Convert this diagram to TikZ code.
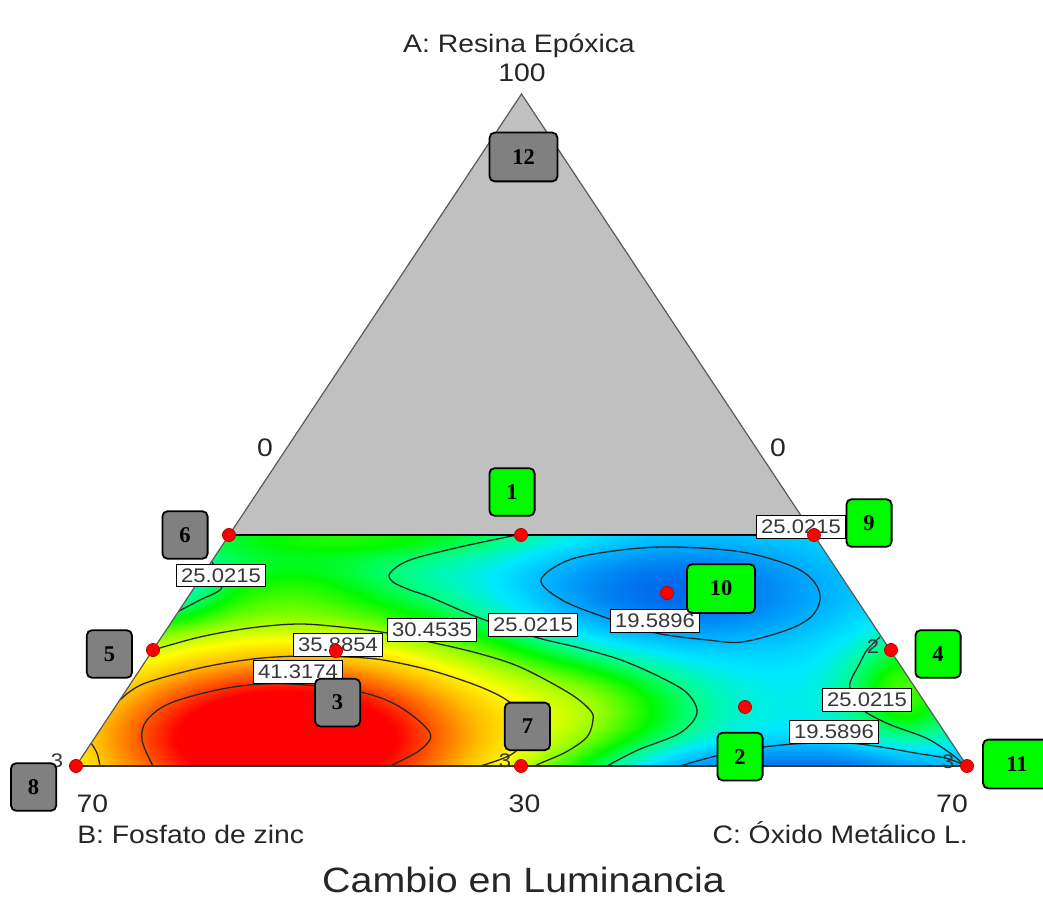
\documentclass[tikz,border=0pt]{standalone}
\usepackage{fontspec}
\usepackage{tikz}
\usetikzlibrary{positioning}
\usepackage{pgfplots}
\pgfplotsset{compat=1.18}
\newfontfamily\axfont[FakeStretch=1.12]{Liberation Sans}
\newfontfamily\numfont{Liberation Serif}
\definecolor{triGray}{RGB}{192,192,192}
\definecolor{edgeGray}{RGB}{90,90,90}
\definecolor{ptGreen}{RGB}{0,250,0}
\definecolor{ptGray}{RGB}{128,128,128}
\definecolor{labText}{RGB}{55,55,55}

\begin{document}
\begin{tikzpicture}[x=0.25mm, y=0.25mm]
  \tikzset{
    gbox/.style={draw, rectangle, fill=ptGreen, rounded corners=1.3mm, line width=0.45mm, minimum width=11.3mm, minimum height=11.9mm, font=\numfont\bfseries\fontsize{16}{18}\selectfont},
    kbox/.style={gbox, fill=ptGray},
    twodig/.style={minimum width=17mm, minimum height=12.2mm},
    rdot/.style={draw=red!70!black, circle, fill=red, line width=0.15mm, inner sep=0pt, minimum size=3.3mm},
    clab/.style={draw, fill=white, line width=0.2mm, inner sep=0pt, minimum width=22.3mm, minimum height=5.6mm, text=labText, font=\axfont\fontsize{14}{15}\selectfont},
    cnum/.style={inner sep=0pt, text=labText, font=\axfont\fontsize{14}{15}\selectfont},
    axlab/.style={inner sep=0pt, text=black!85, font=\axfont\fontsize{18}{20}\selectfont},
    cline/.style={draw, line width=0.32mm, black!85}
  }
  \useasboundingbox (0,0) rectangle (1043,-898);

  % ternary frame
  \coordinate (apex) at (521.5,-94);
  \coordinate (bl) at (76,-766);
  \coordinate (br) at (967,-766);
  \coordinate (tl) at (229,-535);
  \coordinate (tr) at (814,-535);
  \coordinate (fieldSW) at (60,-770);

  \fill[triGray] (bl) -- (apex) -- (br) -- cycle;

  % response surface, clipped to the feasible region
  \begin{scope}
    \clip (bl) -- (tl) -- (tr) -- (br) -- cycle;
    \begin{axis}[at={(fieldSW)}, anchor=south west, scale only axis, scale mode=stretch to fill,
        width=231.25mm, height=60mm, view={0}{90}, hide axis,
        xmin=60, xmax=985, ymin=-770, ymax=-530,
        colormap={dxramp}{rgb255(0pt)=(0,105,235); rgb255(2.84pt)=(0,140,245); rgb255(5.44pt)=(0,180,255);
          rgb255(8.14pt)=(0,232,255); rgb255(10.84pt)=(0,255,140); rgb255(13.34pt)=(0,250,0);
          rgb255(16.34pt)=(150,255,0); rgb255(19.34pt)=(255,255,0); rgb255(22.34pt)=(255,190,0);
          rgb255(25.34pt)=(255,100,0); rgb255(28.34pt)=(255,0,0); rgb255(32.59pt)=(255,0,0)},
        point meta min=14.16, point meta max=46.75,
        declare function={
          sq(\t)=(\t)*(\t);
          gs(\gx,\gy,\ga,\gb,\gc,\gd)=exp(-sq((\gx-\ga)/\gc)-sq((\gy-\gb)/\gd));
          fld(\fx,\fy)=max(14.2,min(46.7,22+24.5*gs(\fx,\fy,286,-738,260,112)+5.5*gs(\fx,\fy,360,-532,220,28)
            +2.2*gs(\fx,\fy,290,-585,90,30)-2.8*gs(\fx,\fy,170,-590,45,30)-8.5*gs(\fx,\fy,672,-592,145,50)
            -10.5*gs(\fx,\fy,790,-780,160,30)+7*gs(\fx,\fy,905,-690,60,55)+3.2*gs(\fx,\fy,600,-705,100,45)));
        }]
      \addplot3[surf, shader=interp, domain=60:985, y domain=-770:-530, samples=62, samples y=18] {fld(x,y)};
    \end{axis}

    % contours
    \draw[cline] plot[smooth, tension=0.55] coordinates {(153,-766) (142,-740) (147,-720) (173,-702) (233,-687) (290,-684) (360,-692) (400,-707) (430,-733) (420,-750) (390,-766)};
    \draw[cline] plot[smooth, tension=0.55] coordinates {(120,-700) (143,-684) (200,-668) (253,-659) (300,-656) (347,-657) (383,-660) (433,-671) (483,-688) (512,-704) (525,-725) (515,-752) (480,-766)};
    \draw[cline] plot[smooth, tension=0.55] coordinates {(91,-743) (97,-753) (100,-766)};
    \draw[cline] plot[smooth, tension=0.55] coordinates {(153,-650) (200,-637) (250,-628) (300,-624) (350,-628) (387,-633) (430,-642) (477,-653) (520,-667) (569,-693) (590,-710) (593,-720) (587,-737) (566,-752) (541,-763) (535,-766)};
    \draw[cline] plot[smooth, tension=0.55] coordinates {(212,-562) (220,-575) (221,-589) (200,-600) (179,-611)};
    \draw[cline] plot[smooth, tension=0.55] coordinates {(517,-535) (460,-547) (410,-560) (390,-573) (393,-582) (410,-590) (430,-597) (477,-617) (535,-637) (580,-648) (621,-660) (660,-677) (687,-693) (697,-713) (680,-733) (638,-750) (607,-766)};
    \draw[cline] plot[smooth, tension=0.55] coordinates {(880,-637) (867,-650) (860,-663) (851,-680) (850,-689) (856,-703) (867,-713) (891,-725) (926,-738) (950,-753) (962,-763)};
    \draw[cline] plot[smooth cycle, tension=0.55] coordinates {(541,-580) (569,-560) (621,-550) (673,-547) (742,-552) (794,-567) (815,-583) (820,-600) (811,-617) (787,-630) (742,-642) (708,-640) (656,-633) (604,-617) (562,-600)};
    \draw[cline] plot[smooth, tension=0.55] coordinates {(680,-766) (708,-758) (742,-750) (794,-744) (846,-743) (881,-747) (915,-753) (945,-758) (962,-764)};
  \end{scope}

  % frame lines
  \draw[edgeGray, line width=0.3mm] (bl) -- (apex) -- (br);
  \draw[black, line width=0.35mm] (tl) -- (tr);
  \draw[black!80, line width=0.35mm] (bl) -- (br);

  % contour labels
  \node[clab] (lab1) at (221,-575.5) {25.0215};
  \node[clab] (lab2) at (338,-645) {35.8854};
  \node[clab] (lab3) at (432,-630) {30.4535};
  \node[clab] (lab4) at (298,-672) {41.3174};
  \node[clab] (lab5) at (533,-625) {25.0215};
  \node[clab] (lab6) at (655,-621) {19.5896};
  \node[clab] (lab7) at (801,-527) {25.0215};
  \node[clab] (lab8) at (867,-700) {25.0215};
  \node[clab] (lab9) at (834,-732) {19.5896};
  \node[cnum] (s1) at (57,-761) {3};
  \node[cnum] (s2) at (505,-761) {3};
  \node[cnum] (s3) at (948,-762) {3};
  \node[cnum] (s4) at (873,-647) {2};

  % design points
  \node[rdot] (d1) at (521,-535) {};
  \node[rdot] (d2) at (745,-707) {};
  \node[rdot] (d3) at (336,-651) {};
  \node[rdot] (d4) at (891,-650) {};
  \node[rdot] (d5) at (153,-650) {};
  \node[rdot] (d6) at (tl) {};
  \node[rdot] (d7) at (521,-766) {};
  \node[rdot] (d8) at (bl) {};
  \node[rdot] (d9) at (tr) {};
  \node[rdot] (d10) at (667,-593) {};
  \node[rdot] (d11) at (br) {};

  \node[gbox, above of=d1, node distance=10.75mm, xshift=-2.25mm] (n1) {1};
  \node[gbox, below of=d2, node distance=12.4mm, xshift=-1.25mm] (n2) {2};
  \node[kbox, below of=d3, node distance=12.9mm, xshift=0.4mm] (n3) {3};
  \node[gbox, right of=d4, node distance=11.75mm, yshift=-1mm] (n4) {4};
  \node[kbox, left of=d5, node distance=10.9mm, yshift=-1mm] (n5) {5};
  \node[kbox, left of=d6, node distance=11mm] (n6) {6};
  \node[kbox, above of=d7, node distance=9.9mm, xshift=1.6mm] (n7) {7};
  \node[kbox, left of=d8, node distance=10.6mm, yshift=-5.25mm] (n8) {8};
  \node[gbox, right of=d9, node distance=13.75mm, yshift=3mm] (n9) {9};
  \node[gbox, twodig, right of=d10, node distance=13.5mm, yshift=1.1mm] (n10) {10};
  \node[gbox, twodig, right of=d11, node distance=12.5mm, yshift=0.5mm] (n11) {11};
  \node[kbox, twodig, below of=apex, node distance=15.75mm, xshift=0.5mm] (n12) {12};

  % axis texts
  \node[axlab, anchor=base] (tA) at (519,-53) {A: Resina Epóxica};
  \node[axlab, anchor=base] (t100) at (522,-82) {100};
  \node[axlab, anchor=base] (tB0) at (265,-457) {0};
  \node[axlab, anchor=base] (tC0) at (778,-457) {0};
  \node[axlab, anchor=base] (tB70) at (92.5,-812) {70};
  \node[axlab, anchor=base] (t30) at (524.5,-812) {30};
  \node[axlab, anchor=base] (tC70) at (952,-812) {70};
  \node[axlab, anchor=base west] (tB) at (77,-843) {B: Fosfato de zinc};
  \node[axlab, anchor=base east] (tC) at (968,-843) {C: Óxido Metálico L.};
  \node[axlab, anchor=base, text depth=0pt, font=\axfont\fontsize{25}{28}\selectfont] (title) at (523.5,-892) {Cambio en Luminancia};
\end{tikzpicture}
\end{document}
